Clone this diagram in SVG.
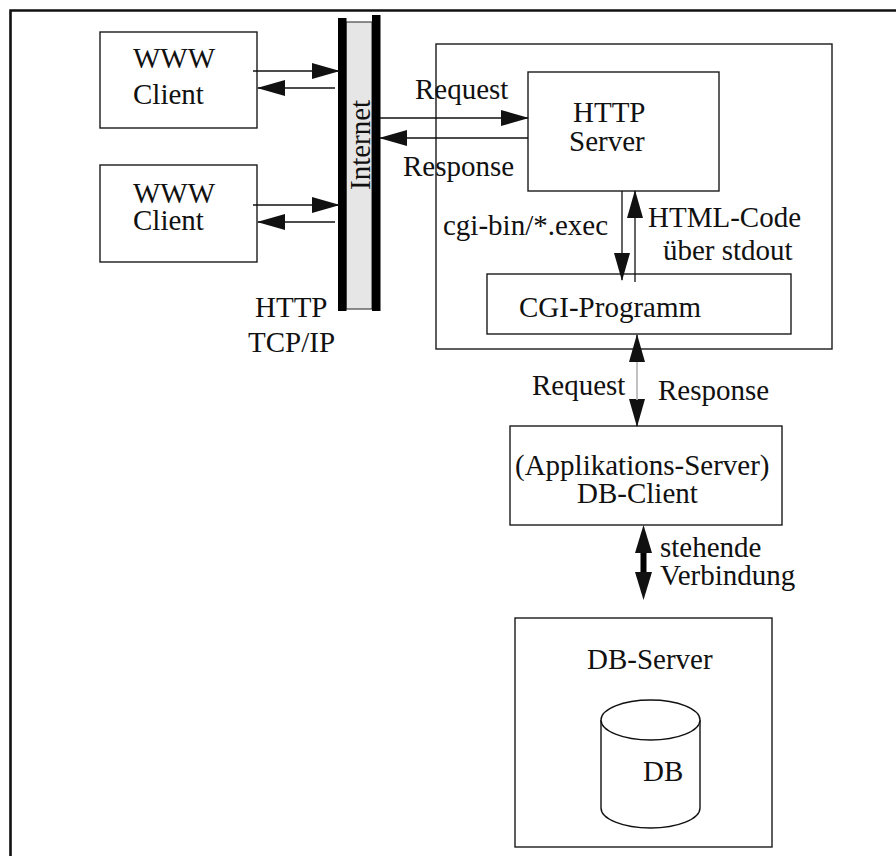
<svg xmlns="http://www.w3.org/2000/svg" width="896" height="856" viewBox="0 0 896 856">
  <defs>
    <style>
      .box { fill: #fff; stroke: #1a1a1a; stroke-width: 1.4; }
      .t { font-family: "Liberation Serif", "Times New Roman", serif; font-size: 29px; fill: #111; }
      .ln { stroke: #111; stroke-width: 1.3; fill: none; }
    </style>
    <!-- thin arrowhead, tip at the line end -->
    <marker id="head" viewBox="0 0 28 16" markerUnits="userSpaceOnUse" markerWidth="28" markerHeight="16" refX="27" refY="8" orient="auto-start-reverse">
      <path d="M0,0 L28,8 L0,16 z" fill="#111"/>
    </marker>
    <!-- wide arrowhead, base sits on the line end -->
    <marker id="headWide" viewBox="0 0 28 17" markerUnits="userSpaceOnUse" markerWidth="28" markerHeight="17" refX="2" refY="8.5" orient="auto-start-reverse">
      <path d="M0,0 L28,8.5 L0,17 z" fill="#111"/>
    </marker>
  </defs>

  <rect width="896" height="856" fill="#fff"/>

  <!-- frame -->
  <path d="M10.5,870 V10.5 H910" fill="none" stroke="#111" stroke-width="2.6"/>

  <g id="client1">
    <rect class="box" x="100" y="32" width="157" height="96"/>
    <text class="t" x="133" y="68">WWW</text>
    <text class="t" x="133" y="104">Client</text>
  </g>

  <g id="client2">
    <rect class="box" x="100" y="165" width="157" height="97"/>
    <text class="t" x="133" y="203">WWW</text>
    <text class="t" x="133" y="230">Client</text>
  </g>

  <g id="internet">
    <rect x="346" y="22" width="26" height="287" fill="#e6e6e6" stroke="#222" stroke-width="1"/>
    <rect x="338" y="18" width="8.5" height="293" fill="#000"/>
    <rect x="372" y="15" width="8.5" height="296" fill="#000"/>
    <text class="t" transform="translate(370,190) rotate(-90)">Internet</text>
    <text class="t" x="255" y="317">HTTP</text>
    <text class="t" x="248" y="352">TCP/IP</text>
  </g>

  <g id="webserver">
    <rect class="box" x="436" y="44" width="396" height="305"/>
  </g>

  <g id="http-server">
    <rect class="box" x="528" y="72" width="191" height="119"/>
    <text class="t" x="573" y="122">HTTP</text>
    <text class="t" x="569" y="151">Server</text>
  </g>

  <g id="cgi">
    <rect class="box" x="487" y="274" width="304" height="60"/>
    <text class="t" x="519" y="317">CGI-Programm</text>
  </g>

  <g id="app-server">
    <rect class="box" x="510" y="426" width="272" height="99"/>
    <text class="t" x="515" y="475">(Applikations-Server)</text>
    <text class="t" x="577" y="503">DB-Client</text>
  </g>

  <g id="db-server">
    <rect class="box" x="515" y="618" width="257" height="229"/>
    <text class="t" x="587" y="669">DB-Server</text>
    <path d="M601,720 V808 A49.5,20 0 0 0 700,808 V720" fill="#fff" stroke="#111" stroke-width="1.4"/>
    <ellipse cx="650.5" cy="720" rx="49.5" ry="20" fill="#fff" stroke="#111" stroke-width="1.4"/>
    <text class="t" x="643" y="781">DB</text>
  </g>

  <g id="connectors">
    <line class="ln" x1="253" y1="71" x2="339" y2="71" marker-end="url(#head)"/>
    <line class="ln" x1="335" y1="88" x2="258" y2="88" marker-end="url(#head)"/>
    <line class="ln" x1="253" y1="205" x2="339" y2="205" marker-end="url(#head)"/>
    <line class="ln" x1="335" y1="222" x2="258" y2="222" marker-end="url(#head)"/>

    <line class="ln" x1="380" y1="118" x2="528" y2="118" marker-end="url(#head)"/>
    <line class="ln" x1="528" y1="138" x2="380" y2="138" marker-end="url(#head)"/>

    <line class="ln" x1="622" y1="191" x2="622" y2="280" stroke-width="2" marker-end="url(#head)"/>
    <line class="ln" x1="635" y1="282" x2="635" y2="191" stroke-width="2" marker-end="url(#head)"/>

    <!-- double-line link between CGI program and application server -->
    <line class="ln" x1="637" y1="335" x2="637" y2="426" stroke-width="4" marker-start="url(#head)" marker-end="url(#head)"/>
    <line x1="637" y1="362" x2="637" y2="400" stroke="#fff" stroke-width="1.2"/>

    <!-- persistent connection -->
    <line x1="643.5" y1="551" x2="643.5" y2="574" stroke="#000" stroke-width="6" marker-start="url(#headWide)" marker-end="url(#headWide)"/>
  </g>

  <g id="labels">
    <text class="t" x="415" y="99">Request</text>
    <text class="t" x="403" y="176">Response</text>
    <text class="t" x="443" y="235">cgi-bin/*.exec</text>
    <text class="t" x="648" y="227">HTML-Code</text>
    <text class="t" x="663" y="260">über stdout</text>
    <text class="t" x="532" y="395">Request</text>
    <text class="t" x="658" y="400">Response</text>
    <text class="t" x="660" y="557">stehende</text>
    <text class="t" x="660" y="585">Verbindung</text>
  </g>
</svg>
